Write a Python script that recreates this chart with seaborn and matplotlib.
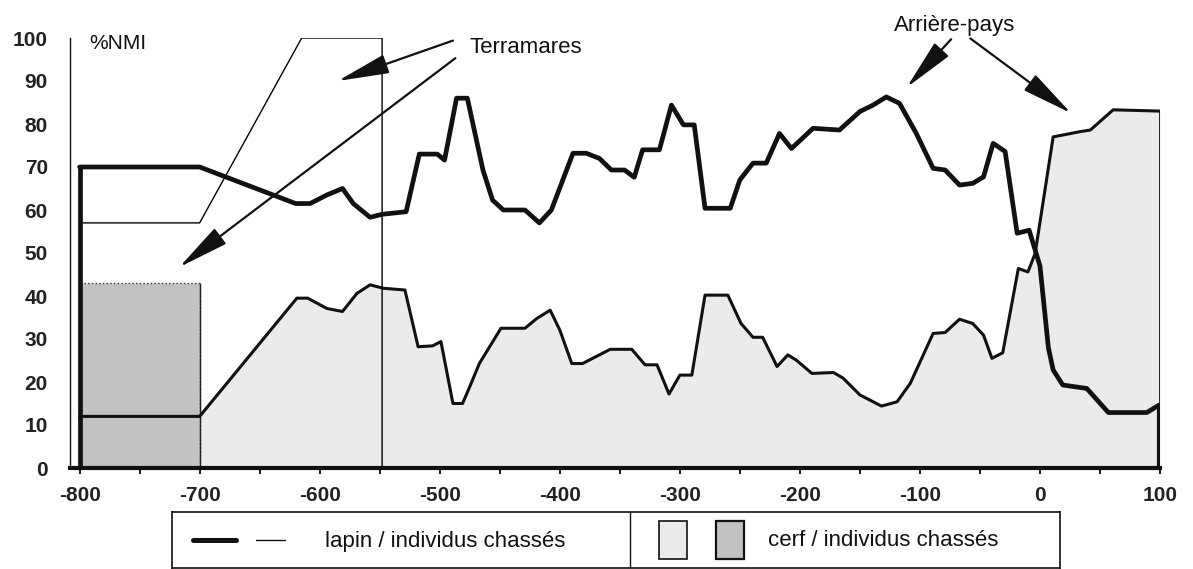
import numpy as np
import pandas as pd
import matplotlib
matplotlib.use("Agg")
import matplotlib.pyplot as plt
import seaborn as sns
from matplotlib.patches import Rectangle
from matplotlib.lines import Line2D

# --- data ---
lapin_x = [-800, -700, -620, -608, -594, -581, -572, -558, -548, -528, -517, -502, -496,
           -486, -477, -464, -456, -447, -429, -417, -407, -389, -378, -367, -357, -346,
           -338, -331, -317, -307, -297, -288, -279, -258, -250, -239, -228, -217, -207,
           -189, -167, -150, -139, -128, -117, -103, -89, -79, -67, -56, -47, -39, -29,
           -19, -9, 0, 7, 11, 19, 39, 57, 89, 99]
lapin_y = [70, 70, 61.5, 61.5, 63.5, 65, 61.5, 58.3, 59, 59.6, 73, 73, 71.6,
           86, 86, 69.3, 62.3, 60, 60, 57, 60, 73.2, 73.2, 72, 69.3, 69.3,
           67.6, 74, 74, 84.4, 79.8, 79.8, 60.4, 60.4, 67, 70.9, 70.9, 77.8, 74.3,
           79, 78.6, 82.9, 84.4, 86.3, 84.8, 77.8, 69.7, 69.3, 65.8, 66.2, 67.7, 75.5, 73.6,
           54.6, 55.3, 47, 28, 22.8, 19.3, 18.5, 12.9, 12.9, 14.6]

cerf_x = [-800, -700, -619, -610, -594, -581, -569, -558, -547, -529, -518, -506, -499,
          -489, -481, -475, -467, -449, -429, -419, -408, -400, -390, -381, -358, -340,
          -329, -319, -309, -300, -290, -279, -260, -249, -239, -231, -219, -210, -203,
          -190, -172, -164, -150, -132, -119, -108, -89, -79, -67, -56, -47, -40, -31,
          -18, -10, -4, 11, 33, 42, 61, 100]
cerf_y = [12, 12, 39.5, 39.5, 37.1, 36.4, 40.6, 42.6, 41.8, 41.4, 28.2, 28.4, 29.4,
          15, 15, 18.9, 24.3, 32.5, 32.5, 34.8, 36.7, 32.1, 24.3, 24.3, 27.6, 27.6,
          24, 24, 17.2, 21.6, 21.6, 40.2, 40.2, 33.6, 30.4, 30.4, 23.6, 26.3, 25.1,
          22, 22.2, 20.9, 17, 14.4, 15.4, 19.7, 31.3, 31.5, 34.6, 33.6, 30.9, 25.5, 26.8,
          46.4, 45.6, 49.9, 77, 78.2, 78.6, 83.3, 83]

# Terramares
terra_lapin_x = [-800, -700, -615, -548, -548]
terra_lapin_y = [57, 57, 100, 100, 0]
terra_cerf_x = [-800, -700]
terra_cerf_y = 43

x_ticks = list(range(-800, 101, 100))
y_ticks = list(range(0, 101, 10))

LIGHT = "#ebebeb"
DARK = "#c2c2c2"

sns.set_theme(style="white")
plt.rcParams["font.family"] = ["Liberation Sans", "DejaVu Sans"]

fig = plt.figure(figsize=(11.93, 5.69), dpi=100)
ax = fig.add_axes([70 / 1193, 101 / 569, 1090 / 1193, 430 / 569])

# fills
ax.fill_between(cerf_x, 0, cerf_y, color=LIGHT, lw=0, zorder=1)
ax.add_patch(Rectangle((terra_cerf_x[0], 0), terra_cerf_x[1] - terra_cerf_x[0], terra_cerf_y,
                       facecolor=DARK, edgecolor="#333333", lw=1.0, ls=":", zorder=2))
ax.vlines(terra_cerf_x[1], 0, terra_cerf_y, color="#222222", lw=1.0, zorder=2)

# lines
df_tl = pd.DataFrame({"x": terra_lapin_x, "y": terra_lapin_y})
sns.lineplot(data=df_tl, x="x", y="y", sort=False, estimator=None, color="black",
             lw=1.0, ax=ax, zorder=3)
df_c = pd.DataFrame({"x": cerf_x, "y": cerf_y})
sns.lineplot(data=df_c, x="x", y="y", sort=False, estimator=None, color="#111111",
             lw=2.2, ax=ax, zorder=4)
ax.vlines(cerf_x[-1], 0, cerf_y[-1], color="#111111", lw=2.0, zorder=4)
df_l = pd.DataFrame({"x": lapin_x, "y": lapin_y})
sns.lineplot(data=df_l, x="x", y="y", sort=False, estimator=None, color="#111111",
             lw=3.4, ax=ax, zorder=5)
ax.vlines(lapin_x[0], 0, lapin_y[0], color="#111111", lw=3.4, zorder=5)
ax.vlines(lapin_x[-1], 0, lapin_y[-1], color="#111111", lw=3.0, zorder=5)

ax.set_xlim(-808, 100)
ax.set_ylim(0, 100)
ax.set_xlabel("")
ax.set_ylabel("")
ax.set_xticks(x_ticks)
ax.set_xticklabels([str(v) for v in x_ticks])
ax.set_xticks(list(range(-750, 100, 100)), minor=True)
ax.set_yticks(y_ticks)
ax.set_yticklabels([str(v) for v in y_ticks])
ax.tick_params(axis="x", which="both", direction="out", length=4, width=1.5,
               pad=9, labelsize=15, colors="#222222", bottom=True)
ax.tick_params(axis="y", length=0, pad=16, labelsize=15, colors="#222222")
for lab in ax.get_xticklabels() + ax.get_yticklabels():
    lab.set_fontweight("bold")
ax.spines["top"].set_visible(False)
ax.spines["right"].set_visible(False)
ax.spines["left"].set_linewidth(1.0)
ax.spines["left"].set_color("#111111")
ax.spines["bottom"].set_linewidth(3.0)
ax.spines["bottom"].set_color("#111111")
ax.spines["bottom"].set_zorder(6)

# texts and arrows
ax.text(-792, 98.8, "%NMI", fontsize=15, va="center", ha="left", color="#111111")
ax.text(-475, 97.7, "Terramares", fontsize=16, va="center", ha="left", color="#111111")
ax.text(-71, 103, "Arrière-pays", fontsize=16, va="center", ha="center",
        color="#111111", clip_on=False)
arrow = dict(arrowstyle="-|>,head_length=1.6,head_width=0.3", lw=1.6,
             color="#111111", mutation_scale=20, shrinkA=0, shrinkB=0)
for tip, start in [((-585, 90), (-489, 99.4)), ((-717, 46.7), (-487, 95.3)),
                   ((-111, 88.5), (-74, 99.7)), ((26, 82.5), (-58, 99.9))]:
    ax.annotate("", xy=tip, xytext=start, arrowprops=arrow, annotation_clip=False, zorder=7)

# legend box
lax = fig.add_axes([172 / 1193, 1 / 569, 888 / 1193, 56 / 569])
lax.set_xlim(172, 1060)
lax.set_ylim(568, 512)
lax.set_xticks([])
lax.set_yticks([])
for s in lax.spines.values():
    s.set_linewidth(1.2)
    s.set_color("#111111")
lax.axvline(630, color="#111111", lw=1.0)
lax.add_line(Line2D([193, 236], [540, 540], color="#111111", lw=3.6))
lax.add_line(Line2D([256, 285], [540, 540], color="#111111", lw=1.0))
lax.text(325, 541, "lapin / individus chassés", fontsize=16, va="center", ha="left",
         color="#111111")
lax.add_patch(Rectangle((659, 521), 28, 38, facecolor=LIGHT, edgecolor="#111111", lw=1.2))
lax.add_patch(Rectangle((716, 521), 28, 38, facecolor=DARK, edgecolor="#111111", lw=1.6))
lax.text(768, 541, "cerf / individus chassés", fontsize=16, va="center", ha="left",
         color="#111111")

fig.savefig("out.png", dpi=100, facecolor="white")
